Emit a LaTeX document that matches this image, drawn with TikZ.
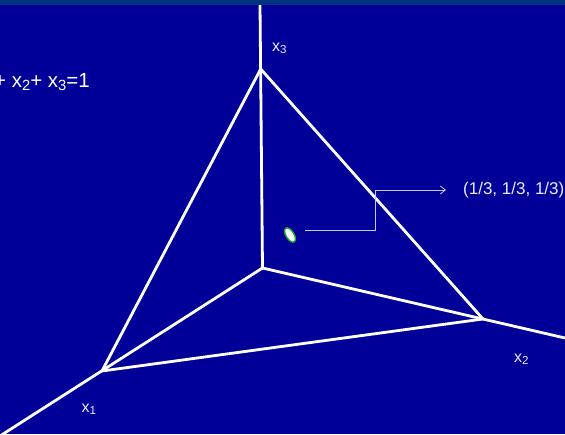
\documentclass[tikz,border=0pt]{standalone}
\usepackage{fontspec}
\setmainfont{Liberation Sans}
\usetikzlibrary{arrows.meta, calc, positioning, shapes.geometric}

\definecolor{slidebg}{RGB}{0,0,153}
\definecolor{slidetop}{RGB}{0,51,128}
\definecolor{leadcol}{RGB}{200,200,235}
\definecolor{ptedge}{RGB}{30,170,50}

%% subscript index, sitting low as on the slide
\newcommand{\idx}[1]{\raisebox{-0.3ex}{\scalebox{0.72}{#1}}}

\begin{document}
\begin{tikzpicture}[
  x=1pt, y=-1pt,
  axis/.style={draw=white, line width=2.8pt},
  edge/.style={draw=white, line width=2.8pt, line join=round},
  lead/.style={draw=leadcol, line width=0.8pt,
               -{Straight Barb[length=5pt, width=8pt]}},
  lbl/.style={text=white!92!blue, inner sep=0pt, font=\fontsize{16}{16}\selectfont},
  eqlbl/.style={lbl, text=white, font=\fontsize{20.5}{20.5}\selectfont},
  ptlbl/.style={lbl, font=\fontsize{17}{17}\selectfont},
  centroid/.style={ellipse, draw=ptedge, fill=white, line width=1.4pt,
                   minimum width=16pt, minimum height=8pt, inner sep=0pt},
]
  %% ── Slide background ──
  \fill[slidebg] (0,0) rectangle (565,434);
  \fill[slidetop] (0,0) rectangle (565,5);
  \clip (0,0) rectangle (565,434);

  %% ══════════════════════════════════════════════════════
  %% Corners of the simplex and ends of the axes
  \coordinate (origin) at (262.5,268);
  \coordinate (v_one)   at (102,371);
  \coordinate (v_two)   at (483,319);
  \coordinate (v_three) at (260.7,69);
  \coordinate (x1_end) at (0,436);
  \coordinate (x2_end) at (565,338);
  \coordinate (x3_end) at (260,5);

  %% Axes
  \draw[axis] (origin) -- (x1_end);
  \draw[axis] (origin) -- (x2_end);
  \draw[axis] (origin) -- (x3_end);

  %% Triangle x1 + x2 + x3 = 1
  \draw[edge] (v_one) -- (v_two) -- (v_three) -- cycle;

  %% ══════════════════════════════════════════════════════
  %% Labels
  \node[eqlbl, anchor=base east] (sum_eq) at (90,87)
    {x\idx{1}+ x\idx{2}+ x\idx{3}=1};
  \node[lbl, anchor=base west] (lbl_x3) at (272,51) {x\idx{3}};
  \node[lbl, anchor=base west] (lbl_x2) at (514,362) {x\idx{2}};
  \node[lbl, anchor=base west] (lbl_x1) at (81.5,412) {x\idx{1}};

  %% Centre point and its leader
  \node[centroid, rotate=-58] (centre) at (290,235) {};
  \node[ptlbl, anchor=west] (coord_lbl) at (463,190) {(1/3, 1/3, 1/3)};
  \coordinate (lead_from) at (305,230.5);
  \draw[lead] (lead_from) -- ++(70,0) |- ([xshift=-17pt]coord_lbl.west);
\end{tikzpicture}
\end{document}
